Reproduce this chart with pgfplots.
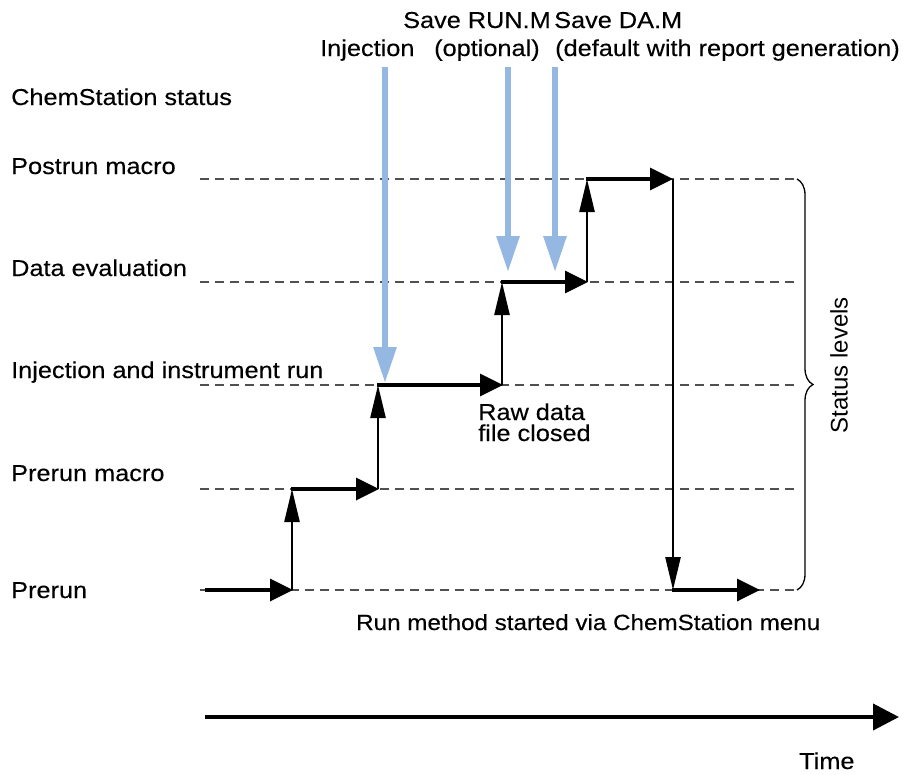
\documentclass[border=0pt]{standalone}
\usepackage{pgfplots}
\pgfplotsset{compat=1.18}
\usepackage{fontspec}
\setmainfont{Liberation Sans}[FakeStretch=1.1,FakeBold=0.3]
\newfontfamily\arialfont{Liberation Sans}
\usetikzlibrary{arrows.meta,decorations.pathreplacing}
\definecolor{lblue}{RGB}{149,184,226}
\definecolor{dgray}{RGB}{80,80,80}
\begin{document}
\begin{tikzpicture}[font=\fontsize{23}{21}\selectfont]
\begin{axis}[width=912pt,height=774pt,scale only axis,
  xmin=0,xmax=912,ymin=0,ymax=774,y dir=reverse,hide axis,clip=false]
\path (rel axis cs:0,0) rectangle (rel axis cs:1,1);
% dashed status levels
\foreach \yy in {179,282,385,489,590}{
  \edef\tmp{\noexpand\addplot[dgray,line width=1.2pt,dash pattern=on 9pt off 6pt] coordinates {(200,\yy) (797,\yy)};}
  \tmp
}
% steps
\pgfplotsset{hseg/.style={black,line width=3.5pt,-{Triangle[length=23pt,width=22pt]}},
             vseg/.style={black,line width=2.5pt,-{Triangle[length=33pt,width=15pt]}}}
\addplot[hseg] coordinates {(205,590) (293,590)};
\addplot[vseg] coordinates {(292,590) (292,489)};
\addplot[hseg] coordinates {(291,489) (379,489)};
\addplot[vseg] coordinates {(378,489) (378,385)};
\addplot[hseg] coordinates {(377,385) (503,385)};
\addplot[vseg] coordinates {(502,385) (502,282)};
\addplot[hseg] coordinates {(501,282) (588,282)};
\addplot[vseg] coordinates {(587,282) (587,179)};
\addplot[hseg] coordinates {(586,179) (673,179)};
\addplot[vseg] coordinates {(673,179) (673,590)};
\addplot[hseg] coordinates {(672,590) (760,590)};
% blue event arrows
\pgfplotsset{bseg/.style={lblue,line width=6pt,-{Triangle[length=36pt,width=22pt]}}}
\addplot[bseg] coordinates {(385,67) (385,383)};
\addplot[bseg] coordinates {(508,67) (508,272)};
\addplot[bseg] coordinates {(555,67) (555,272)};
% time arrow
\addplot[black,line width=4pt,-{Triangle[length=26pt,width=26pt]}] coordinates {(205,717) (899,717)};
% brace
\draw[line width=1.3pt,decorate,decoration={brace,amplitude=16pt}] (axis cs:797,179) -- (axis cs:797,590);
% texts
\tikzset{lbl/.style={anchor=base west,inner sep=0pt}}
\node[lbl] at (axis cs:11,105) {ChemStation status};
\node[lbl] at (axis cs:11,174) {Postrun macro};
\node[lbl] at (axis cs:11,276) {Data evaluation};
\node[lbl] at (axis cs:11,378) {Injection and instrument run};
\node[lbl] at (axis cs:11,481) {Prerun macro};
\node[lbl] at (axis cs:11,598) {Prerun};
\node[lbl] at (axis cs:478,420) {Raw data};
\node[lbl] at (axis cs:478,441) {file closed};
\node[lbl] at (axis cs:356,630) {\fontsize{22}{21}\selectfont Run method started via ChemStation menu};
\node[lbl] at (axis cs:799,769) {Time};
\node[lbl] at (axis cs:403,28) {Save RUN.M};
\node[lbl] at (axis cs:554,28) {Save DA.M};
\node[lbl] at (axis cs:320,56) {Injection};
\node[lbl] at (axis cs:434,56) {(optional)};
\node[lbl] at (axis cs:555,56) {(default with report generation)};
\node[rotate=90,font=\arialfont\fontsize{24}{26}\selectfont] at (axis cs:839,365) {Status levels};
\end{axis}
\end{tikzpicture}
\end{document}
